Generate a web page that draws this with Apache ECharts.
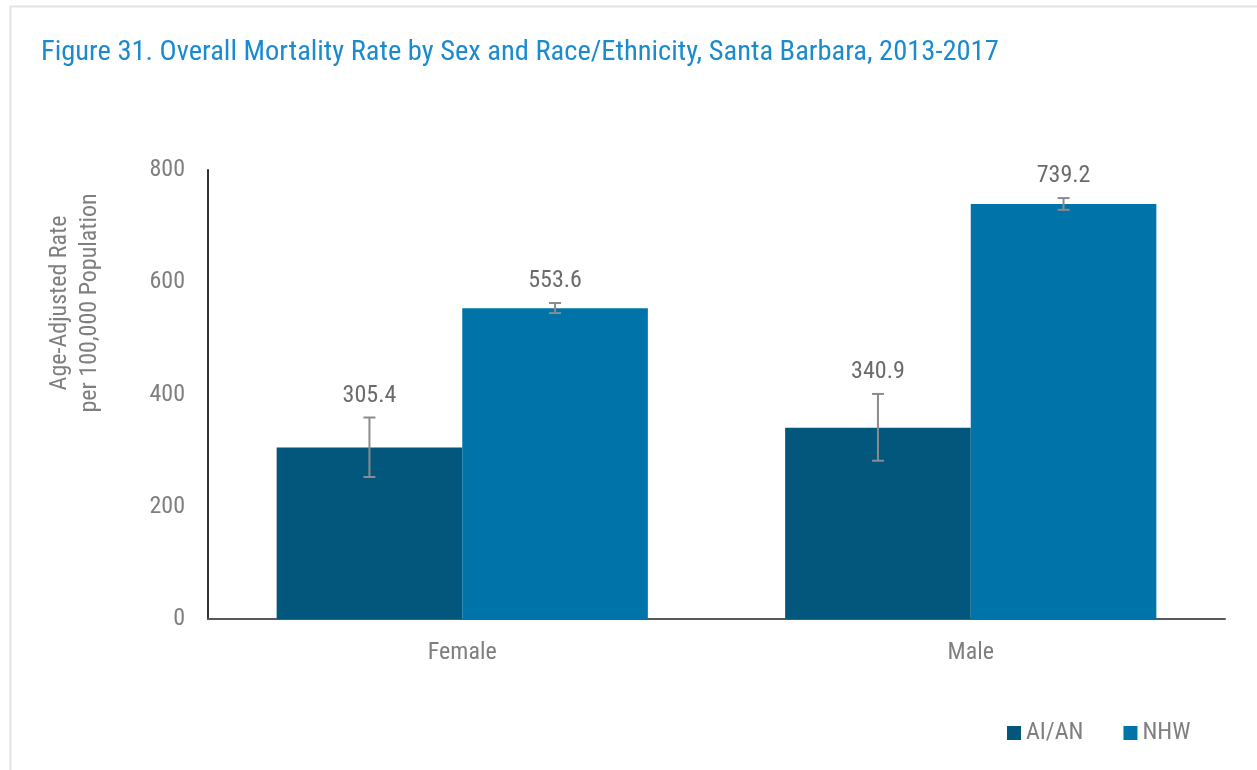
<!DOCTYPE html>
<html>
<head>
<meta charset="utf-8">
<script src="https://cdn.jsdelivr.net/npm/echarts@6/dist/echarts.min.js"></script>
<style>html,body{margin:0;padding:0;background:#fff;}#chart{width:1257px;height:770px;}</style>
</head>
<body>
<div id="chart"></div>
<script>
const categories = ['Female', 'Male'];
const seriesNames = ['AI/AN', 'NHW'];
const aianValues = [305.4, 340.9];
const nhwValues = [553.6, 739.2];
const aianLow = [253, 282];
const aianHigh = [359, 401];
const nhwLow = [545, 729];
const nhwHigh = [563, 750];
const yTicks = [0, 200, 400, 600, 800];

const FONT = "'Liberation Sans Narrow', 'Roboto Condensed', 'DejaVu Sans Condensed', sans-serif";
const GRAY = '#7f7f7f';
const colors = ['#03577c', '#0073a8'];

const errData = [];
categories.forEach((c, i) => {
  errData.push([i, aianLow[i], aianHigh[i], aianValues[i], 0]);
  errData.push([i, nhwLow[i], nhwHigh[i], nhwValues[i], 1]);
});

function renderErr(params, api) {
  const ci = api.value(0), lo = api.value(1), hi = api.value(2), v = api.value(3), s = api.value(4);
  const band = api.size([1, 0])[0];
  const bw = band * (1 - 0.27) / 2;
  const center = api.coord([ci, 0])[0];
  const x = center + (s === 0 ? -bw / 2 : bw / 2);
  const yLo = api.coord([ci, lo])[1];
  const yHi = api.coord([ci, hi])[1];
  const st = { stroke: '#8c8c8c', lineWidth: 2 };
  return {
    type: 'group',
    children: [
      { type: 'line', shape: { x1: x, y1: yLo, x2: x, y2: yHi }, style: st },
      { type: 'line', shape: { x1: x - 6, y1: yLo, x2: x + 6, y2: yLo }, style: st },
      { type: 'line', shape: { x1: x - 6, y1: yHi, x2: x + 6, y2: yHi }, style: st },
      { type: 'text', x: x, y: yHi - 10, style: { text: v.toFixed(1), fill: '#6b6b6b', font: '24px ' + FONT, textAlign: 'center', textVerticalAlign: 'bottom' } }
    ]
  };
}

const chart = echarts.init(document.getElementById('chart'));
chart.setOption({
  animation: false,
  backgroundColor: '#fff',
  title: {
    text: 'Figure 31. Overall Mortality Rate by Sex and Race/Ethnicity, Santa Barbara, 2013-2017',
    left: 36, top: 33,
    textStyle: { color: '#1b8bcf', fontSize: 28.5, fontWeight: 'normal', fontFamily: FONT }
  },
  graphic: [
    { type: 'rect', shape: { x: 10.5, y: 6.5, width: 1270, height: 790 }, style: { fill: 'none', stroke: '#e3e3e3', lineWidth: 2 }, silent: true },
    { type: 'text', x: 75, y: 303, rotation: Math.PI / 2, style: { text: 'Age-Adjusted Rate\nper 100,000 Population', fill: GRAY, font: '24px ' + FONT, textAlign: 'center', textVerticalAlign: 'middle', lineHeight: 30 } }
  ],
  legend: {
    data: seriesNames,
    left: 1002, top: 716,
    icon: 'rect', itemWidth: 14, itemHeight: 14, itemGap: 40,
    textStyle: { color: GRAY, fontSize: 24, fontFamily: FONT }
  },
  grid: { left: 208, right: 32, top: 170, bottom: 151, containLabel: false },
  xAxis: {
    type: 'category', data: categories,
    axisLine: { lineStyle: { color: '#595959', width: 2 } },
    axisTick: { show: false },
    axisLabel: { color: GRAY, fontSize: 24, fontFamily: FONT, margin: 22 }
  },
  yAxis: {
    type: 'value', min: 0, max: 800, interval: 200,
    axisLine: { show: true, lineStyle: { color: '#333', width: 2 } },
    axisTick: { show: false },
    splitLine: { show: false },
    axisLabel: { color: GRAY, fontSize: 24, fontFamily: FONT, margin: 23, formatter: v => yTicks.includes(v) ? String(v) : '' }
  },
  series: [
    { name: seriesNames[0], type: 'bar', data: aianValues, itemStyle: { color: colors[0] }, barGap: '0%', barCategoryGap: '27%' },
    { name: seriesNames[1], type: 'bar', data: nhwValues, itemStyle: { color: colors[1] }, barGap: '0%', barCategoryGap: '27%' },
    { type: 'custom', renderItem: renderErr, data: errData, encode: { x: 0, y: [1, 2] }, z: 10, silent: true }
  ]
});
</script>
</body>
</html>
